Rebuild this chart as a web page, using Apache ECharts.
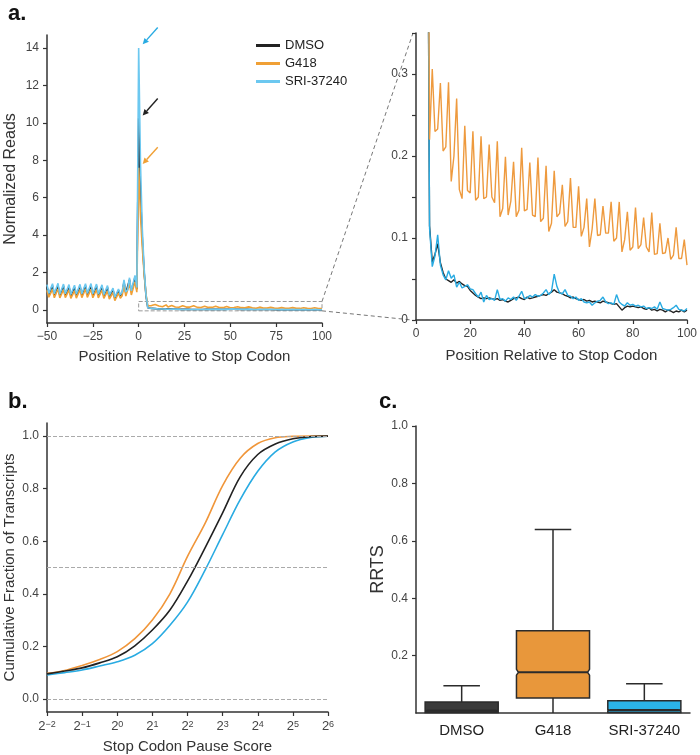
<!DOCTYPE html>
<html>
<head>
<meta charset="utf-8">
<script src="https://cdn.jsdelivr.net/npm/echarts@6/dist/echarts.min.js"></script>
<style>
  html, body { margin: 0; padding: 0; background: #fff; }
  #chart { width: 700px; height: 755px; }
</style>
</head>
<body>
<div id="chart"></div>
<script>
// ---- panel a: normalized reads around the stop codon (positions -50 .. 100)
const positions = []
for (let p = -50; p <= 100; p++) positions.push(p)

const dmsoReads = [
  1.25, 0.82, 0.88, 1.30, 0.80, 0.86, 1.30, 0.78, 0.85, 1.28, 0.80, 0.88,
  1.25, 0.76, 0.84, 1.22, 0.78, 0.86, 1.27, 0.80, 0.88, 1.30, 0.82, 0.86,
  1.30, 0.80, 0.87, 1.28, 0.78, 0.85, 1.25, 0.76, 0.82, 1.20, 0.72, 0.78,
  1.08, 0.62, 0.70, 1.05, 0.75, 0.90, 1.50, 0.90, 1.00, 1.62, 0.95, 1.05,
  1.75, 1.10,
  10.25, 6.2, 3.8, 2.0, 0.75, 0.115,
  0.071, 0.080, 0.093, 0.070, 0.058, 0.050, 0.048, 0.046, 0.049, 0.045,
  0.047, 0.044, 0.042, 0.041, 0.036, 0.033, 0.030, 0.028, 0.026, 0.027,
  0.026, 0.027, 0.026, 0.025, 0.026, 0.024, 0.025, 0.023, 0.022, 0.024,
  0.026, 0.027, 0.028, 0.026, 0.025, 0.028, 0.026, 0.027, 0.028, 0.029,
  0.030, 0.031, 0.030, 0.032, 0.034, 0.037, 0.034, 0.033, 0.032, 0.030,
  0.029, 0.027, 0.028, 0.026, 0.025, 0.024, 0.025, 0.023, 0.024, 0.022,
  0.023, 0.022, 0.021, 0.023, 0.022, 0.021, 0.020, 0.019, 0.020, 0.016,
  0.012, 0.015, 0.017, 0.016, 0.017, 0.016, 0.015, 0.016, 0.014, 0.013,
  0.015, 0.012, 0.013, 0.011, 0.013, 0.012, 0.010, 0.012, 0.011, 0.009,
  0.011, 0.010, 0.012, 0.010, 0.012
]
const g418Reads = [
  1.05, 0.68, 0.72, 1.10, 0.65, 0.70, 1.12, 0.64, 0.70, 1.08, 0.66, 0.72,
  1.06, 0.62, 0.70, 1.02, 0.63, 0.71, 1.08, 0.66, 0.73, 1.12, 0.67, 0.72,
  1.10, 0.65, 0.71, 1.08, 0.64, 0.70, 1.05, 0.62, 0.68, 1.00, 0.58, 0.64,
  0.92, 0.50, 0.58, 0.90, 0.62, 0.76, 1.30, 0.74, 0.84, 1.40, 0.80, 0.90,
  1.50, 0.95,
  7.6, 5.0, 3.3, 1.9, 0.85, 0.22,
  0.306, 0.230, 0.233, 0.289, 0.206, 0.211, 0.290, 0.169, 0.200, 0.270,
  0.159, 0.148, 0.237, 0.158, 0.155, 0.230, 0.146, 0.150, 0.224, 0.148,
  0.150, 0.214, 0.150, 0.143, 0.218, 0.126, 0.136, 0.199, 0.128, 0.145,
  0.193, 0.126, 0.134, 0.210, 0.133, 0.135, 0.192, 0.128, 0.126, 0.198,
  0.120, 0.124, 0.188, 0.108, 0.118, 0.182, 0.126, 0.130, 0.165, 0.114,
  0.120, 0.173, 0.113, 0.113, 0.163, 0.102, 0.113, 0.148, 0.089, 0.111,
  0.148, 0.103, 0.104, 0.139, 0.106, 0.106, 0.144, 0.096, 0.100, 0.144,
  0.083, 0.098, 0.132, 0.085, 0.089, 0.137, 0.087, 0.092, 0.125, 0.089,
  0.083, 0.131, 0.080, 0.081, 0.118, 0.081, 0.082, 0.100, 0.074, 0.079,
  0.113, 0.075, 0.075, 0.098, 0.067
]
const sriReads = [
  1.35, 0.88, 0.95, 1.40, 0.86, 0.92, 1.42, 0.84, 0.90, 1.38, 0.86, 0.94,
  1.35, 0.82, 0.90, 1.32, 0.84, 0.92, 1.37, 0.86, 0.94, 1.40, 0.88, 0.92,
  1.41, 0.86, 0.93, 1.38, 0.84, 0.90, 1.34, 0.82, 0.88, 1.30, 0.78, 0.84,
  1.16, 0.68, 0.76, 1.12, 0.80, 0.96, 1.60, 0.96, 1.08, 1.72, 1.02, 1.12,
  1.85, 1.20,
  14.0, 7.8, 4.3, 2.2, 0.8, 0.112,
  0.065, 0.078, 0.104, 0.067, 0.055, 0.049, 0.060, 0.051, 0.055, 0.040,
  0.046, 0.039, 0.041, 0.043, 0.038, 0.037, 0.032, 0.028, 0.034, 0.022,
  0.030, 0.025, 0.026, 0.024, 0.037, 0.025, 0.026, 0.023, 0.027, 0.025,
  0.028, 0.024, 0.029, 0.035, 0.026, 0.027, 0.030, 0.028, 0.031, 0.029,
  0.030, 0.033, 0.037, 0.031, 0.035, 0.056, 0.041, 0.033, 0.032, 0.037,
  0.030, 0.029, 0.026, 0.028, 0.024, 0.026, 0.022, 0.021, 0.022, 0.018,
  0.021, 0.023, 0.024, 0.028, 0.022, 0.020, 0.021, 0.019, 0.031, 0.022,
  0.019, 0.017, 0.021, 0.018, 0.019, 0.017, 0.018, 0.016, 0.017, 0.014,
  0.015, 0.014, 0.016, 0.013, 0.022, 0.014, 0.013, 0.012, 0.013, 0.015,
  0.018, 0.013, 0.012, 0.011, 0.014
]
const readsTicksY = [0, 2, 4, 6, 8, 10, 12, 14]

// arrows pointing at the peaks (data coords of panel a, left)
const arrowTails = [[10.4, 15.1], [10.4, 11.3], [10.4, 8.7]]
const arrowHeads = [[2.2, 14.2], [2.2, 10.4], [2.2, 7.8]]

// ---- panel b: cumulative fraction vs log2 pause score
const pauseExponents = [-2, -1.5, -1, -0.5, 0, 0.5, 1, 1.5, 2, 2.5, 3, 3.5, 4, 4.5, 5, 5.5, 6]
const dmsoCdf = [0.095, 0.106, 0.118, 0.137, 0.160, 0.202, 0.262, 0.338, 0.448, 0.575, 0.708, 0.845, 0.930, 0.970, 0.990, 0.998, 1.0]
const g418Cdf = [0.097, 0.108, 0.127, 0.150, 0.180, 0.229, 0.300, 0.400, 0.542, 0.668, 0.812, 0.916, 0.972, 0.994, 0.999, 1.0, 1.0]
const sriCdf = [0.091, 0.100, 0.110, 0.125, 0.141, 0.166, 0.210, 0.280, 0.368, 0.490, 0.625, 0.758, 0.866, 0.940, 0.978, 0.995, 1.0]
const cdfTicksY = [0, 0.2, 0.4, 0.6, 0.8, 1.0]

// ---- panel c: RRTS box plot
const boxCategories = ['DMSO', 'G418', 'SRI-37240']
const boxLow = [0, 0, 0]
const boxQ1 = [0.002, 0.052, 0.002]
const boxMedian = [0.008, 0.142, 0.010]
const boxQ3 = [0.038, 0.287, 0.043]
const boxHigh = [0.095, 0.639, 0.102]
const notchLow = [0.006, 0.132, 0.008]
const notchHigh = [0.010, 0.152, 0.012]
const rrtsTicksY = [0.2, 0.4, 0.6, 0.8, 1.0]

const FONT = '"Liberation Sans", Arial, Helvetica, sans-serif'
const BLACK = '#222222'
const ORANGE = '#F0A035'
const BLUE = '#29ABE2'
const BLUE_LIGHT = '#6CC8F0'
const boxColors = ['#3a3a3a', '#E8973B', '#2BB3E8']

const pairs = (vals, fromPos) => positions
  .map((p, i) => [p, vals[i]])
  .filter(d => d[0] >= fromPos)

const minus = v => String(v).replace('-', '\u2212')

const baseAxis = () => ({
  axisLine: { show: true, onZero: false, lineStyle: { color: '#333', width: 1.5 } },
  axisTick: { show: true, length: 4, lineStyle: { color: '#333', width: 1.2 } },
  axisLabel: { color: '#444', fontSize: 12, fontFamily: FONT },
  splitLine: { show: false },
  nameTextStyle: { color: '#333', fontSize: 15, fontFamily: FONT },
  nameLocation: 'middle'
})

const lineSeries = (name, vals, color, xi, fromPos, width) => ({
  name: name,
  type: 'line',
  xAxisIndex: xi,
  yAxisIndex: xi,
  data: pairs(vals, fromPos),
  symbol: 'none',
  clip: true,
  itemStyle: { color: color },
  lineStyle: { color: color, width: width },
  animation: false
})

function renderBox (params, api) {
  const i = api.value(0)
  const xc = api.coord([i, 0])[0]
  const band = api.size([1, 0])[0]
  const hw = band * 0.4
  const cap = band * 0.2
  const inset = 2
  const y = v => api.coord([i, v])[1]
  const yLow = y(api.value(1))
  const yQ1 = y(api.value(2))
  const yMed = y(api.value(3))
  const yQ3 = y(api.value(4))
  const yHigh = y(api.value(5))
  const yNlo = y(api.value(6))
  const yNhi = y(api.value(7))
  const stroke = '#2b2b2b'
  const ls = { stroke: stroke, lineWidth: 1.5 }
  return {
    type: 'group',
    children: [
      { type: 'line', shape: { x1: xc, y1: yQ3, x2: xc, y2: yHigh }, style: ls },
      { type: 'line', shape: { x1: xc - cap, y1: yHigh, x2: xc + cap, y2: yHigh }, style: ls },
      { type: 'line', shape: { x1: xc, y1: yQ1, x2: xc, y2: yLow }, style: ls },
      {
        type: 'polygon',
        shape: {
          points: [
            [xc - hw, yQ3], [xc + hw, yQ3], [xc + hw, yNhi], [xc + hw - inset, yMed],
            [xc + hw, yNlo], [xc + hw, yQ1], [xc - hw, yQ1], [xc - hw, yNlo],
            [xc - hw + inset, yMed], [xc - hw, yNhi]
          ]
        },
        style: { fill: boxColors[i], stroke: stroke, lineWidth: 1.5 }
      },
      { type: 'line', shape: { x1: xc - hw + inset, y1: yMed, x2: xc + hw - inset, y2: yMed }, style: { stroke: stroke, lineWidth: 2.2 } }
    ]
  }
}

const chart = echarts.init(document.getElementById('chart'))

const option = {
  backgroundColor: '#fff',
  animation: false,
  title: [
    { text: 'a.', left: 3, top: -2, textStyle: { fontSize: 22, fontWeight: 'bold', color: '#111', fontFamily: FONT } },
    { text: 'b.', left: 3, top: 386, textStyle: { fontSize: 22, fontWeight: 'bold', color: '#111', fontFamily: FONT } },
    { text: 'c.', left: 374, top: 386, textStyle: { fontSize: 22, fontWeight: 'bold', color: '#111', fontFamily: FONT } }
  ],
  legend: {
    data: ['DMSO', 'G418', 'SRI-37240'],
    orient: 'vertical',
    left: 251,
    top: 34,
    icon: 'rect',
    itemWidth: 24,
    itemHeight: 3,
    itemGap: 5,
    textStyle: { color: '#222', fontSize: 13, fontFamily: FONT }
  },
  grid: [
    { left: 47, top: 35, width: 275, height: 288 },
    { left: 416, top: 33, width: 275, height: 287 },
    { left: 47, top: 423, width: 281, height: 289 },
    { left: 416, top: 426, width: 274, height: 287 }
  ],
  xAxis: [
    Object.assign(baseAxis(), {
      gridIndex: 0, type: 'value', min: -50, max: 100, interval: 25,
      name: 'Position Relative to Stop Codon', nameGap: 26
    }),
    Object.assign(baseAxis(), {
      gridIndex: 1, type: 'value', min: 0, max: 100, interval: 20,
      name: 'Position Relative to Stop Codon', nameGap: 28
    }),
    Object.assign(baseAxis(), {
      gridIndex: 2, type: 'value', min: -2, max: 6, interval: 1,
      name: 'Stop Codon Pause Score', nameGap: 27
    }),
    Object.assign(baseAxis(), {
      gridIndex: 3, type: 'category', data: boxCategories
    })
  ],
  yAxis: [
    Object.assign(baseAxis(), {
      gridIndex: 0, type: 'value', min: -0.7, max: 14.7,
      name: 'Normalized Reads', nameGap: 28
    }),
    Object.assign(baseAxis(), {
      gridIndex: 1, type: 'value', min: 0, max: 0.35, interval: 0.05
    }),
    Object.assign(baseAxis(), {
      gridIndex: 2, type: 'value', min: -0.05, max: 1.05,
      name: 'Cumulative Fraction of Transcripts', nameGap: 30
    }),
    Object.assign(baseAxis(), {
      gridIndex: 3, type: 'value', min: 0, max: 1, interval: 0.2,
      name: 'RRTS', nameGap: 29
    })
  ],
  series: []
}

// axis details
option.xAxis[0].axisLabel.formatter = v => minus(v)
option.yAxis[0].axisLabel.customValues = readsTicksY
option.yAxis[0].axisTick.customValues = readsTicksY
option.yAxis[0].nameTextStyle.fontSize = 16
option.yAxis[1].axisLabel.formatter = v => {
  if (v === 0) return '0'
  return Math.abs(v * 10 - Math.round(v * 10)) < 1e-6 && v < 0.34 ? v.toFixed(1) : ''
}
option.yAxis[2].axisLabel.customValues = cdfTicksY
option.yAxis[2].axisTick.customValues = cdfTicksY
option.yAxis[2].axisLabel.formatter = v => v.toFixed(1)
option.xAxis[2].axisLabel.formatter = v => '{b|2}{s|' + minus(v) + '}'
option.xAxis[2].axisLabel.rich = {
  b: { fontSize: 13, color: '#444', fontFamily: FONT },
  s: { fontSize: 9, color: '#444', fontFamily: FONT, verticalAlign: 'top', padding: [0, 0, 4, 0] }
}
option.yAxis[3].axisLabel.customValues = rrtsTicksY
option.yAxis[3].axisTick.customValues = rrtsTicksY
option.yAxis[3].axisLabel.formatter = v => v.toFixed(1)
option.yAxis[3].nameTextStyle.fontSize = 18
option.xAxis[3].axisTick.show = false
option.xAxis[3].axisLabel.interval = 0
option.xAxis[3].axisLabel.fontSize = 15
option.xAxis[3].axisLabel.color = '#222'
option.xAxis[3].axisLabel.margin = 10

// panel a left
const leftBlue = lineSeries('SRI-37240', sriReads, BLUE_LIGHT, 0, -50, 1.6)
const leftBlack = lineSeries('DMSO', dmsoReads, BLACK, 0, -50, 1.6)
const leftOrange = lineSeries('G418', g418Reads, ORANGE, 0, -50, 1.6)
leftBlack.markArea = {
  silent: true,
  itemStyle: { color: 'rgba(0,0,0,0)', borderColor: '#999', borderWidth: 1, borderType: 'dashed' },
  data: [[{ coord: [0, -0.05] }, { coord: [100, 0.45] }]]
}
option.series.push(leftBlack, leftOrange, leftBlue)

// panel a right (zoom)
option.series.push(
  lineSeries('DMSO', dmsoReads, BLACK, 1, 0, 1.4),
  lineSeries('SRI-37240', sriReads, BLUE, 1, 0, 1.4),
  lineSeries('G418', g418Reads, '#EE9A3E', 1, 0, 1.4)
)

// panel b
const cdfSeries = (name, vals, color) => ({
  name: name,
  type: 'line',
  xAxisIndex: 2,
  yAxisIndex: 2,
  data: pauseExponents.map((e, i) => [e, vals[i]]),
  smooth: 0.35,
  symbol: 'none',
  itemStyle: { color: color },
  lineStyle: { color: color, width: 1.6 }
})
const bBlack = cdfSeries('DMSO', dmsoCdf, BLACK)
bBlack.markLine = {
  silent: true,
  symbol: 'none',
  label: { show: false },
  lineStyle: { color: '#aaa', type: 'dashed', width: 1 },
  data: [{ yAxis: 0 }, { yAxis: 0.5 }, { yAxis: 1 }]
}
option.series.push(cdfSeries('SRI-37240', sriCdf, BLUE), cdfSeries('G418', g418Cdf, '#F0963A'), bBlack)

// panel c
option.series.push({
  type: 'custom',
  xAxisIndex: 3,
  yAxisIndex: 3,
  renderItem: renderBox,
  encode: { x: 0, y: [1, 2, 3, 4, 5] },
  data: boxCategories.map((c, i) => [i, boxLow[i], boxQ1[i], boxMedian[i], boxQ3[i], boxHigh[i], notchLow[i], notchHigh[i]])
})

chart.setOption(option)

// annotations: arrows and zoom connectors, placed through the axes
const px = (g, pt) => chart.convertToPixel({ gridIndex: g }, pt)
const arrowColors = [BLUE, BLACK, ORANGE]
const graphics = []
arrowTails.forEach((t, i) => {
  const a = px(0, t)
  const b = px(0, arrowHeads[i])
  const dx = b[0] - a[0]
  const dy = b[1] - a[1]
  const len = Math.sqrt(dx * dx + dy * dy)
  const ux = dx / len
  const uy = dy / len
  const hl = 6
  const hw = 3
  const base = [b[0] - ux * hl, b[1] - uy * hl]
  graphics.push({
    type: 'line', silent: true,
    shape: { x1: a[0], y1: a[1], x2: base[0], y2: base[1] },
    style: { stroke: arrowColors[i], lineWidth: 1.4 }
  })
  graphics.push({
    type: 'polygon', silent: true,
    shape: { points: [b, [base[0] - uy * hw, base[1] + ux * hw], [base[0] + uy * hw, base[1] - ux * hw]] },
    style: { fill: arrowColors[i] }
  })
})
const c1 = px(0, [100, 0.45])
const c2 = px(1, [0, 0.35])
const c3 = px(0, [100, -0.05])
const c4 = px(1, [0, 0])
graphics.push(
  { type: 'line', silent: true, shape: { x1: c1[0], y1: c1[1], x2: c2[0] - 3, y2: c2[1] }, style: { stroke: '#777', lineWidth: 1, lineDash: [4, 3] } },
  { type: 'line', silent: true, shape: { x1: c3[0], y1: c3[1], x2: c4[0] - 4, y2: c4[1] }, style: { stroke: '#777', lineWidth: 1, lineDash: [4, 3] } }
)
chart.setOption({ graphic: graphics })
</script>
</body>
</html>
